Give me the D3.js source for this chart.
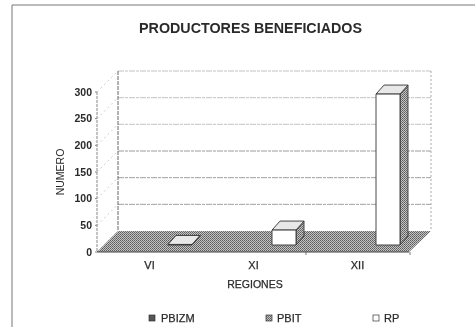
<!DOCTYPE html>
<html><head><meta charset="utf-8">
<script src="https://cdn.jsdelivr.net/npm/d3@7"></script>
<style>html,body{margin:0;background:#fff}svg{display:block}text{font-family:"Liberation Sans",Arial,sans-serif;fill:#2a2a2a}</style>
</head><body><svg id="c" width="475" height="329"></svg>
<script>
const title = "PRODUCTORES BENEFICIADOS";
const categories = ["VI","XI","XII"];
const seriesNames = ["PBIZM","PBIT","RP"];
const PBIZM = [0,0,0];
const PBIT = [0,0,0];
const RP = [1,28,283];
const yTicks = [0,50,100,150,200,250,300];

const svg = d3.select("#c");
const defs = svg.append("defs");
const dither = defs.append("pattern").attr("id","dither").attr("width",2).attr("height",2).attr("patternUnits","userSpaceOnUse");
dither.append("rect").attr("width",2).attr("height",2).attr("fill","#c4c4c4");
dither.append("rect").attr("width",1).attr("height",1).attr("fill","#5c5c5c");
dither.append("rect").attr("x",1).attr("y",1).attr("width",1).attr("height",1).attr("fill","#707070");
const soft = defs.append("filter").attr("id","soft");
soft.append("feGaussianBlur").attr("stdDeviation",0.3);

const root = svg.append("g").attr("filter","url(#soft)");
const x = d3.scaleBand().domain(categories).range([97,409]);
const inner = d3.scaleBand().domain(seriesNames).range([16,88]);
const y = d3.scaleLinear().domain([0,300]).range([252,92]);
const depth = 21, sDepth = 7;

// frame
root.append("path").attr("d","M12,5H475M12,5V327").attr("fill","none").attr("stroke","#777").attr("stroke-width",1);
root.append("text").attr("x",250.5).attr("y",33).attr("text-anchor","middle").attr("font-size",14.3).attr("font-weight","bold").text(title);

// walls and grid
yTicks.forEach(t=>{
  const yy=y(t);
  if(t>0) root.append("line").attr("x1",97+depth).attr("x2",431).attr("y1",yy-depth).attr("y2",yy-depth).attr("stroke","#777").attr("stroke-width",.8).attr("stroke-dasharray","6 1 3 1").attr("opacity",t>=200?.55:.9);
  root.append("line").attr("x1",97).attr("x2",97+depth).attr("y1",yy).attr("y2",yy-depth).attr("stroke","#aaa").attr("stroke-width",.6).attr("stroke-dasharray","2 3");
  root.append("line").attr("x1",95).attr("x2",97).attr("y1",yy).attr("y2",yy).attr("stroke","#666").attr("stroke-width",.8);
  root.append("text").attr("x",92).attr("y",yy+3.5).attr("text-anchor","end").attr("font-size",10.5).attr("font-weight","bold").text(t);
});
root.append("line").attr("x1",97).attr("x2",97).attr("y1",y(300)).attr("y2",y(0)).attr("stroke","#888").attr("stroke-dasharray","3 1");
root.append("line").attr("x1",118).attr("x2",118).attr("y1",y(300)-depth).attr("y2",y(0)-depth).attr("stroke","#666").attr("stroke-dasharray","4 1");
root.append("line").attr("x1",431).attr("x2",431).attr("y1",y(300)-depth).attr("y2",y(0)-depth).attr("stroke","#aaa").attr("stroke-dasharray","2 2");

// floor
root.append("path").attr("d","M97,252L118,231H431L409,252Z").attr("fill","url(#dither)");
root.append("line").attr("x1",97).attr("x2",409).attr("y1",252).attr("y2",252).attr("stroke","#444");
[x("XII"),409].forEach(v=>root.append("line").attr("x1",v+1).attr("x2",v+1).attr("y1",252).attr("y2",255).attr("stroke","#555").attr("stroke-width",.8));

// bars (RP carries all visible height; zero series merge with the floor)
const w = inner.bandwidth();
categories.forEach((c,i)=>{
  const x0 = x(c)+inner("RP")+sDepth, y0 = y(RP[i])-sDepth, yb = y(0)-sDepth;
  const dx = sDepth+1, dy = 9;
  const g = root.append("g").attr("stroke","#333").attr("stroke-width",.9).attr("stroke-linejoin","round");
  g.append("path").attr("d",`M${x0+w},${yb}V${y0}l${dx},${-dy}V${yb-dy}Z`).attr("fill","url(#dither)");
  g.append("path").attr("d",`M${x0},${y0}l${dx},${-dy}h${w}l${-dx},${dy}Z`).attr("fill","#e8e8e8");
  g.append("rect").attr("x",x0).attr("y",y0).attr("width",w).attr("height",yb-y0).attr("fill","#fff");
});

// labels
categories.forEach(c=>root.append("text").attr("x",x(c)+x.bandwidth()/2+0.5).attr("y",269).attr("text-anchor","middle").attr("font-size",11).attr("stroke","#2a2a2a").attr("stroke-width",.25).text(c));
root.append("text").attr("x",255).attr("y",288).attr("text-anchor","middle").attr("font-size",10.5).attr("stroke","#2a2a2a").attr("stroke-width",.25).text("REGIONES");
root.append("text").attr("transform","translate(64,172) rotate(-90)").attr("text-anchor","middle").attr("font-size",10.5).text("NUMERO");

// legend
const legendX = d3.scaleOrdinal().domain(seriesNames).range([149,266,373]);
const legendFill = d3.scaleOrdinal().domain(seriesNames).range(["#555","url(#dither)","#fff"]);
seriesNames.forEach(n=>{
  root.append("rect").attr("x",legendX(n)).attr("y",315).attr("width",6).attr("height",6).attr("fill",legendFill(n)).attr("stroke","#333").attr("stroke-width",.7);
  root.append("text").attr("x",legendX(n)+(n==="PBIZM"?12:11)).attr("y",322).attr("font-size",11).attr("stroke","#2a2a2a").attr("stroke-width",.25).text(n);
});
</script></body></html>
